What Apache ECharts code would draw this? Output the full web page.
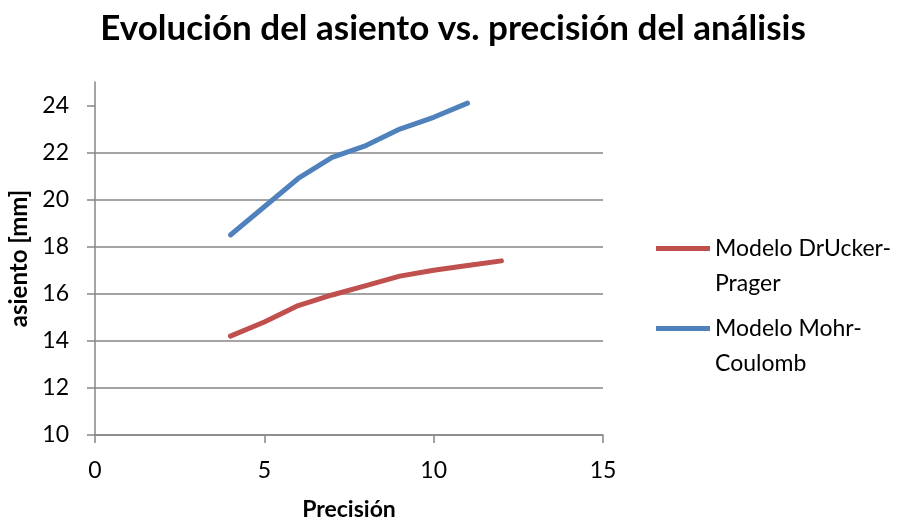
<!DOCTYPE html>
<html>
<head>
<meta charset="utf-8">
<script src="https://cdn.jsdelivr.net/npm/echarts@6/dist/echarts.min.js"></script>
<style>
  html, body { margin: 0; padding: 0; background: #fff; }
  #chart { width: 906px; height: 522px; }
</style>
</head>
<body>
<div id="chart"></div>
<script>
(function () {
    // datos
    var precisionDP = [4, 5, 6, 7, 8, 9, 10, 11, 12];
    var asientoDP = [14.2, 14.8, 15.5, 15.95, 16.35, 16.75, 17.0, 17.2, 17.4];
    var precisionMC = [4, 5, 6, 7, 8, 9, 10, 11];
    var asientoMC = [18.5, 19.7, 20.9, 21.8, 22.3, 23.0, 23.5, 24.1];
    var yTicks = [10, 12, 14, 16, 18, 20, 22, 24];
    var xTicks = [0, 5, 10, 15];

    var nameDP = 'Modelo DrUcker-Prager';
    var nameMC = 'Modelo Mohr-Coulomb';

    var pairs = function (xs, ys) {
        var out = [];
        for (var i = 0; i < xs.length; i++) {
            out.push([xs[i], ys[i]]);
        }
        return out;
    };

    var font = 'Lato, "Open Sans", sans-serif';
    var axisGray = '#868686';

    var legendText = {
        fontFamily: font,
        fontSize: 23,
        color: '#000',
        lineHeight: 35
    };
    // linea vacia arriba para que el icono quede a la altura de la primera linea
    var wrapName = function (name) {
        var cut = name.indexOf('-');
        return '\n' + name.slice(0, cut + 1) + '\n' + name.slice(cut + 1);
    };

    var chart = echarts.init(document.getElementById('chart'), null, { renderer: 'canvas' });
    chart.setOption({
        animation: false,
        title: {
            text: 'Evolución del asiento vs. precisión del análisis',
            left: 'center',
            top: 6,
            textStyle: { fontFamily: font, fontSize: 35, fontWeight: 'bold', color: '#000' }
        },
        legend: [
            {
                data: [nameDP],
                orient: 'vertical',
                left: 651,
                top: 191,
                icon: 'rect',
                itemWidth: 54,
                itemHeight: 5,
                itemGap: 0,
                formatter: wrapName,
                textStyle: legendText
            },
            {
                data: [nameMC],
                orient: 'vertical',
                left: 651,
                top: 271,
                icon: 'rect',
                itemWidth: 54,
                itemHeight: 5,
                itemGap: 0,
                formatter: wrapName,
                textStyle: legendText
            }
        ],
        grid: { left: 95, right: 303, top: 82, bottom: 87, containLabel: false, outerBoundsMode: 'none' },
        xAxis: {
            type: 'value',
            min: 0,
            max: 15,
            interval: 5,
            name: 'Precisión',
            nameLocation: 'middle',
            nameGap: 63,
            nameTextStyle: { fontFamily: font, fontSize: 23, fontWeight: 'bold', color: '#000' },
            axisLine: { show: true, lineStyle: { color: axisGray, width: 1.5 } },
            axisTick: { show: true, length: 8, lineStyle: { color: axisGray, width: 1.5 } },
            axisLabel: {
                margin: 24,
                fontFamily: font,
                fontSize: 23,
                color: '#000',
                customValues: xTicks
            },
            splitLine: { show: false }
        },
        yAxis: {
            type: 'value',
            min: 10,
            max: 25,
            interval: 2,
            name: 'asiento [mm]',
            nameLocation: 'middle',
            nameGap: 63,
            nameTextStyle: { fontFamily: font, fontSize: 24, fontWeight: 'bold', color: '#000' },
            axisLine: { show: true, lineStyle: { color: axisGray, width: 1.5 } },
            axisTick: { show: true, inside: false, length: 8, lineStyle: { color: axisGray, width: 1.5 }, customValues: yTicks },
            axisLabel: {
                margin: 26,
                fontFamily: font,
                fontSize: 23,
                color: '#000',
                customValues: yTicks
            },
            splitLine: { show: true, showMaxLine: false, lineStyle: { color: axisGray, width: 1.5 } }
        },
        series: [
            {
                name: nameDP,
                type: 'line',
                data: pairs(precisionDP, asientoDP),
                showSymbol: false,
                symbol: 'none',
                lineStyle: { color: '#C0504D', width: 5, cap: 'round', join: 'round' },
                itemStyle: { color: '#C0504D' }
            },
            {
                name: nameMC,
                type: 'line',
                data: pairs(precisionMC, asientoMC),
                showSymbol: false,
                symbol: 'none',
                lineStyle: { color: '#4F81BD', width: 5, cap: 'round', join: 'round' },
                itemStyle: { color: '#4F81BD' }
            }
        ]
    });
})();
</script>
</body>
</html>
